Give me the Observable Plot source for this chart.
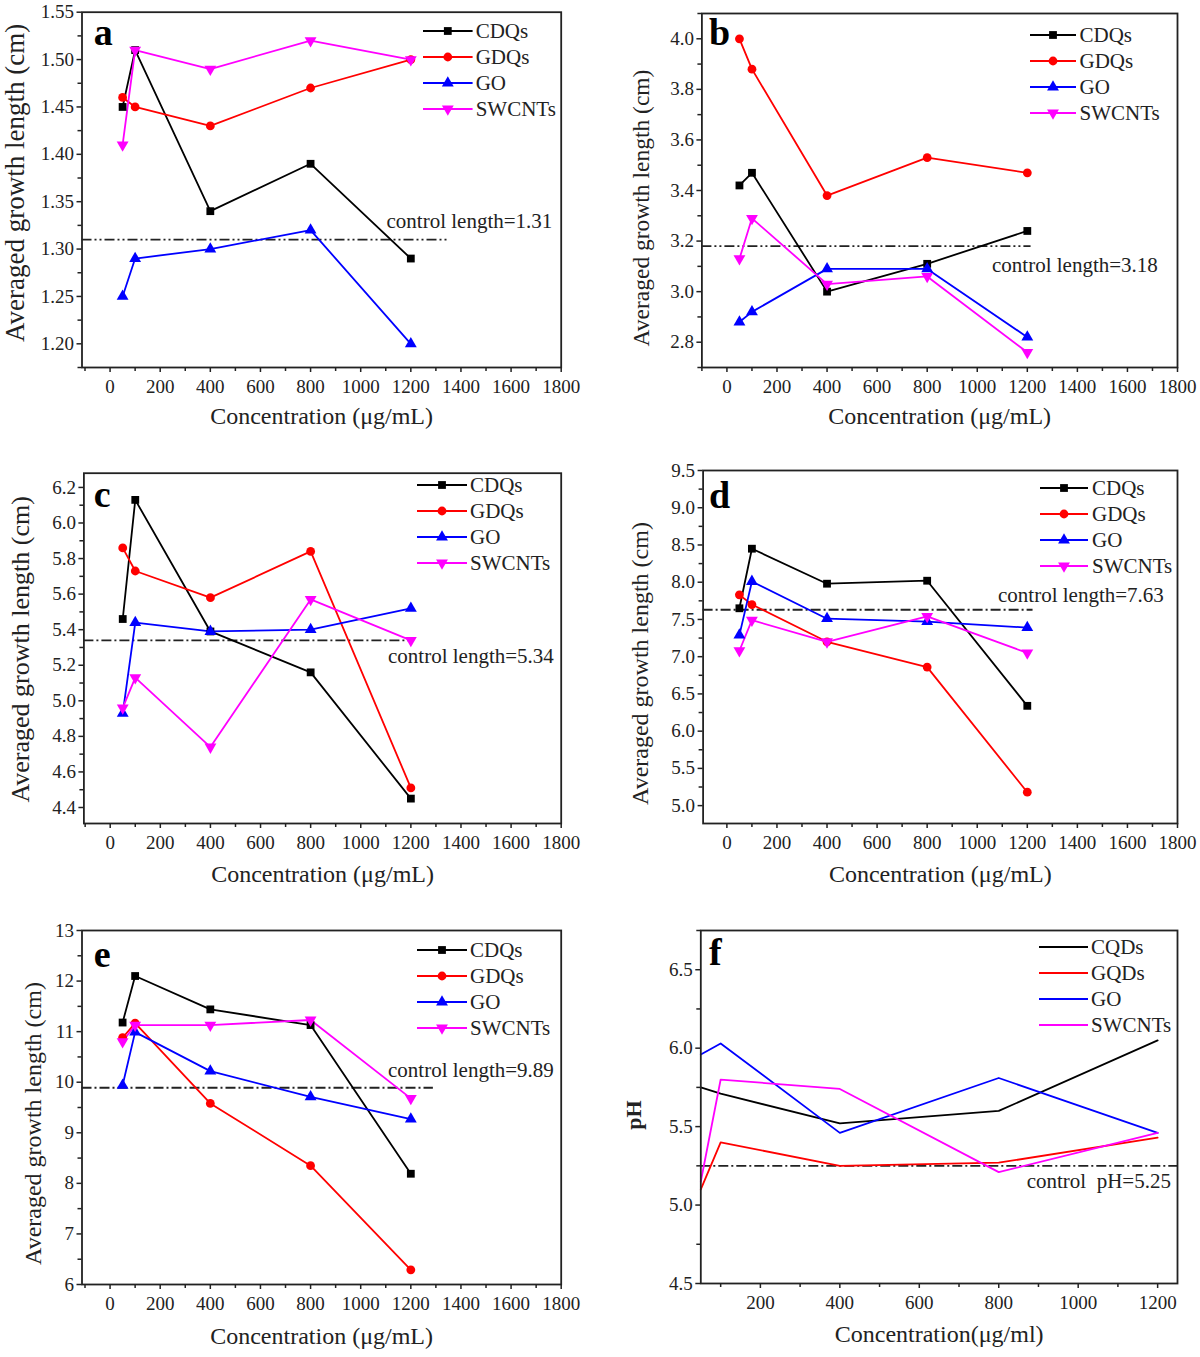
<!DOCTYPE html>
<html><head><meta charset="utf-8">
<script src="https://cdn.jsdelivr.net/npm/d3@7"></script>
<script src="https://cdn.jsdelivr.net/npm/@observablehq/plot@0.6"></script>
<style>
body{margin:0;background:#fff}
#wrap{position:relative;width:1200px;height:1357px;background:#fff;overflow:hidden}
.panel{position:absolute}
</style></head><body><div id="wrap"></div>
<script>
// ---- data ----
const concentration = [50, 100, 400, 800, 1200];
const lengthSeriesNames = ["CDQs", "GDQs", "GO", "SWCNTs"];
const phSeriesNames = ["CQDs", "GQDs", "GO", "SWCNTs"];
const seriesColors = ["#000000", "#ff0000", "#0000ff", "#ff00ff"];

// panel a
const aCDQs = [1.45, 1.51, 1.34, 1.39, 1.29];
const aGDQs = [1.46, 1.45, 1.43, 1.47, 1.50];
const aGO = [1.25, 1.29, 1.30, 1.32, 1.20];
const aSWCNTs = [1.41, 1.51, 1.49, 1.52, 1.50];
// panel b
const bCDQs = [3.42, 3.47, 3.00, 3.11, 3.24];
const bGDQs = [4.00, 3.88, 3.38, 3.53, 3.47];
const bGO = [2.88, 2.92, 3.09, 3.09, 2.82];
const bSWCNTs = [3.13, 3.29, 3.03, 3.06, 2.76];
// panel c
const cCDQs = [5.46, 6.13, 5.39, 5.16, 4.45];
const cGDQs = [5.86, 5.73, 5.58, 5.84, 4.51];
const cGO = [4.93, 5.44, 5.39, 5.40, 5.52];
const cSWCNTs = [4.96, 5.13, 4.74, 5.57, 5.34];
// panel d
const dCDQs = [7.65, 8.45, 7.98, 8.02, 6.34];
const dGDQs = [7.83, 7.70, 7.20, 6.86, 5.18];
const dGO = [7.29, 8.01, 7.51, 7.47, 7.39];
const dSWCNTs = [7.08, 7.49, 7.20, 7.54, 7.05];
// panel e
const eCDQs = [11.18, 12.10, 11.44, 11.13, 8.19];
const eGDQs = [10.88, 11.17, 9.58, 8.35, 6.29];
const eGO = [9.94, 10.99, 10.22, 9.71, 9.27];
const eSWCNTs = [10.80, 11.13, 11.13, 11.23, 9.68];
// panel f (pH)
const fCQDs = [5.75, 5.71, 5.52, 5.60, 6.05];
const fGQDs = [5.10, 5.40, 5.25, 5.27, 5.43];
const fGO = [5.96, 6.03, 5.46, 5.81, 5.46];
const fSWCNTs = [5.15, 5.80, 5.74, 5.21, 5.46];

const controlValues = [1.31, 3.18, 5.34, 7.63, 9.89, 5.25];
const controlLabels = ["control length=1.31", "control length=3.18", "control length=5.34",
  "control length=7.63", "control length=9.89", "control  pH=5.25"];
const panelLetters = ["a", "b", "c", "d", "e", "f"];

const xTicksLength = [0, 200, 400, 600, 800, 1000, 1200, 1400, 1600, 1800];
const xMinorLength = [-100, 100, 300, 500, 700, 900, 1100, 1300, 1500, 1700];
const xTicksPh = [200, 400, 600, 800, 1000, 1200];
const xMinorPh = [100, 300, 500, 700, 900, 1100];

const aYTicks = [1.20, 1.25, 1.30, 1.35, 1.40, 1.45, 1.50, 1.55];
const bYTicks = [2.8, 3.0, 3.2, 3.4, 3.6, 3.8, 4.0];
const cYTicks = [4.4, 4.6, 4.8, 5.0, 5.2, 5.4, 5.6, 5.8, 6.0, 6.2];
const dYTicks = [5.0, 5.5, 6.0, 6.5, 7.0, 7.5, 8.0, 8.5, 9.0, 9.5];
const eYTicks = [6, 7, 8, 9, 10, 11, 12, 13];
const fYTicks = [4.5, 5.0, 5.5, 6.0, 6.5];

const lengthLabel = "Averaged growth length (cm)";
const xLabelLength = "Concentration (\u03bcg/mL)";
const xLabelPh = "Concentration(\u03bcg/ml)";

// ---- layout ----
const FONT = "'Liberation Serif', 'Times New Roman', serif";
const triangleDown = {
  draw(context, size) {
    const y = Math.sqrt(size / (Math.sqrt(3) * 3));
    context.moveTo(0, y * 2);
    context.lineTo(-Math.sqrt(3) * y, -y);
    context.lineTo(Math.sqrt(3) * y, -y);
    context.closePath();
  }
};
const markerSymbols = [d3.symbolSquare, d3.symbolCircle, d3.symbolTriangle, triangleDown];

const panels = [
  {left: 0, top: 0, h: 460, m: [11.7, 39.3, 93, 81.5], xd: [-112, 1800], yd: [1.175, 1.55],
   series: [aCDQs, aGDQs, aGO, aSWCNTs], yTicks: aYTicks, yStep: 0.05, fmt: ".2f", ctrlEnd: 1356,
   dash: "10,3,2,3,2,3", ylab: lengthLabel, ylabFS: 27, ylabDx: -66.5, ylabDy: -7, xlab: xLabelLength, xlabDy: 56,
   letter: [93.8, 45], ctrlText: [386.5, 221.7], leg: [423, 472.6, 475.7, 31], names: lengthSeriesNames, markers: true,
   xTicks: xTicksLength, xMinor: xMinorLength},
  {left: 600, top: 0, h: 460, m: [13, 23, 93, 101.4], xd: [-100, 1800], yd: [2.7, 4.1],
   series: [bCDQs, bGDQs, bGO, bSWCNTs], yTicks: bYTicks, yStep: 0.2, fmt: ".1f", ctrlEnd: 1215,
   dash: "10,3,2,3,2,3", ylab: lengthLabel, ylabFS: 23.5, ylabDx: -60.4, ylabDy: 17.5, xlab: xLabelLength, xlabDy: 56,
   letter: [109, 45], ctrlText: [392, 265], leg: [430, 476, 479.5, 35], names: lengthSeriesNames, markers: true,
   xTicks: xTicksLength, xMinor: xMinorLength},
  {left: 0, top: 460, h: 460, m: [12.7, 39.3, 97, 83.4], xd: [-105, 1800], yd: [4.31, 6.28],
   series: [cCDQs, cGDQs, cGO, cSWCNTs], yTicks: cYTicks, yStep: 0.2, fmt: ".1f", ctrlEnd: 1210,
   dash: "10,3,2,3", ylab: lengthLabel, ylabFS: 26, ylabDx: -63.4, ylabDy: 1, xlab: xLabelLength, xlabDy: 58.7,
   letter: [93.8, 46.7], ctrlText: [388, 196.5], leg: [417, 467, 470, 25], names: lengthSeriesNames, markers: true,
   xTicks: xTicksLength, xMinor: xMinorLength},
  {left: 600, top: 460, h: 460, m: [10, 23, 97, 102.6], xd: [-95, 1800], yd: [4.76, 9.5],
   series: [dCDQs, dGDQs, dGO, dSWCNTs], yTicks: dYTicks, yStep: 0.5, fmt: ".1f", ctrlEnd: 1223,
   dash: "10,3,2,3", ylab: lengthLabel, ylabFS: 24, ylabDx: -62.6, ylabDy: 16.5, xlab: xLabelLength, xlabDy: 58.7,
   letter: [109, 48], ctrlText: [398, 135], leg: [440, 488, 492, 28], names: lengthSeriesNames, markers: true,
   xTicks: xTicksLength, xMinor: xMinorLength},
  {left: 0, top: 920, h: 437, m: [10, 39.3, 73, 81.5], xd: [-112, 1800], yd: [6, 13],
   series: [eCDQs, eGDQs, eGO, eSWCNTs], yTicks: eYTicks, yStep: 1, fmt: "d", ctrlEnd: 1290,
   dash: "10,3,2,3", ylab: lengthLabel, ylabFS: 24, ylabDx: -49, ylabDy: 16, xlab: xLabelLength, xlabDy: 59,
   letter: [93.8, 46.7], ctrlText: [388, 150], leg: [417, 467, 470, 30], names: lengthSeriesNames, markers: true,
   xTicks: xTicksLength, xMinor: xMinorLength},
  {left: 600, top: 920, h: 437, m: [10, 23, 74, 100.3], xd: [50, 1250], yd: [4.5, 6.75],
   series: [fCQDs, fGQDs, fGO, fSWCNTs], yTicks: fYTicks, yStep: 0.5, fmt: ".1f", ctrlEnd: 1250,
   dash: "10,3,2,3", ylab: "pH", ylabBold: true, ylabFS: 22, ylabDx: -66.8, ylabDy: 8, xlab: xLabelPh, xlabDy: 58.7,
   letter: [109, 45], ctrlText: [426.7, 261.5], leg: [439, 488, 491, 27], names: phSeriesNames, markers: false,
   xTicks: xTicksPh, xMinor: xMinorPh}
];

const wrap = document.getElementById("wrap");
const INK = "#222";

panels.forEach((p, k) => {
  const inX = v => v >= Math.min(...p.xd) - 1e-9 && v <= Math.max(...p.xd) + 1e-9;
  const inY = v => v >= p.yd[0] - 1e-9 && v <= p.yd[1] + 1e-9;
  const yMinor = p.yTicks.flatMap(t => [t - p.yStep / 2, t + p.yStep / 2]).filter(inY);
  const marks = [
    Plot.axisY(p.yTicks.filter(inY), {tickSize: 5, tickPadding: 3, tickFormat: d3.format(p.fmt), label: null, stroke: INK, strokeWidth: 1.5, fontSize: 19}),
    Plot.axisY(Array.from(new Set(yMinor.map(v => +v.toFixed(4)))), {tickSize: 4, tickFormat: () => "", label: null, stroke: INK, strokeWidth: 1.5}),
    Plot.axisX(p.xTicks.filter(inX), {tickSize: 5, tickPadding: 7, tickFormat: d => String(d), label: null, stroke: INK, strokeWidth: 1.5, fontSize: 19}),
    Plot.axisX(p.xMinor.filter(inX), {tickSize: 4, tickFormat: () => "", label: null, stroke: INK, strokeWidth: 1.5}),
    Plot.ruleY([controlValues[k]], {x1: p.xd[0], x2: p.ctrlEnd, stroke: INK, strokeWidth: 1.9, strokeDasharray: p.dash}),
    Plot.text([p.xlab], {frameAnchor: "bottom", textAnchor: "middle", dy: p.xlabDy, fontSize: 24, fill: INK}),
    Plot.text([p.ylab], {frameAnchor: "left", textAnchor: "middle", rotate: -90, dx: p.ylabDx, dy: p.ylabDy, fontSize: p.ylabFS, fill: INK, fontWeight: p.ylabBold ? "bold" : "normal"})
  ];
  p.series.forEach((vals, i) => {
    marks.push(Plot.line(vals, {x: concentration, y: d => d, stroke: seriesColors[i], strokeWidth: 1.8}));
  });
  if (p.markers) {
    p.series.forEach((vals, i) => {
      marks.push(Plot.dot(vals, {x: concentration, y: d => d, symbol: markerSymbols[i], r: 4.4, fill: seriesColors[i], stroke: "none"}));
    });
  }
  marks.push(Plot.frame({stroke: INK, strokeWidth: 1.8}));

  const svg = Plot.plot({
    width: 600, height: p.h,
    marginTop: p.m[0], marginRight: p.m[1], marginBottom: p.m[2], marginLeft: p.m[3],
    x: {domain: p.xd},
    y: {domain: p.yd},
    style: {fontFamily: FONT, fontSize: "19px", color: INK, background: "transparent", overflow: "visible"},
    marks
  });

  // annotations: panel letter, control label, legend
  const g = d3.select(svg).append("g").attr("font-family", FONT).attr("fill", INK).attr("text-anchor", "start");
  g.append("text").attr("x", p.letter[0]).attr("y", p.letter[1]).attr("text-anchor", "start").attr("font-size", 38).attr("font-weight", "bold").attr("fill", "#000").text(panelLetters[k]);
  g.append("text").attr("x", p.ctrlText[0]).attr("y", p.ctrlText[1]).attr("text-anchor", "start").attr("dy", "0.32em").attr("font-size", 21).text(controlLabels[k]);
  const [lx1, lx2, tx, y0] = p.leg;
  p.names.forEach((name, i) => {
    const y = y0 + i * 26;
    g.append("line").attr("x1", lx1).attr("x2", lx2).attr("y1", y).attr("y2", y)
      .attr("stroke", seriesColors[i]).attr("stroke-width", p.markers ? 1.8 : 2.2);
    if (p.markers) {
      g.append("path").attr("d", d3.symbol(markerSymbols[i], 4.4 * 4.4 * Math.PI)())
        .attr("transform", `translate(${(lx1 + lx2) / 2},${y})`).attr("fill", seriesColors[i]);
    }
    g.append("text").attr("x", tx).attr("y", y).attr("text-anchor", "start").attr("dy", "0.32em").attr("font-size", 21).text(name);
  });

  const div = document.createElement("div");
  div.className = "panel";
  div.style.left = p.left + "px";
  div.style.top = p.top + "px";
  div.appendChild(svg);
  wrap.appendChild(div);
});
</script></body></html>
